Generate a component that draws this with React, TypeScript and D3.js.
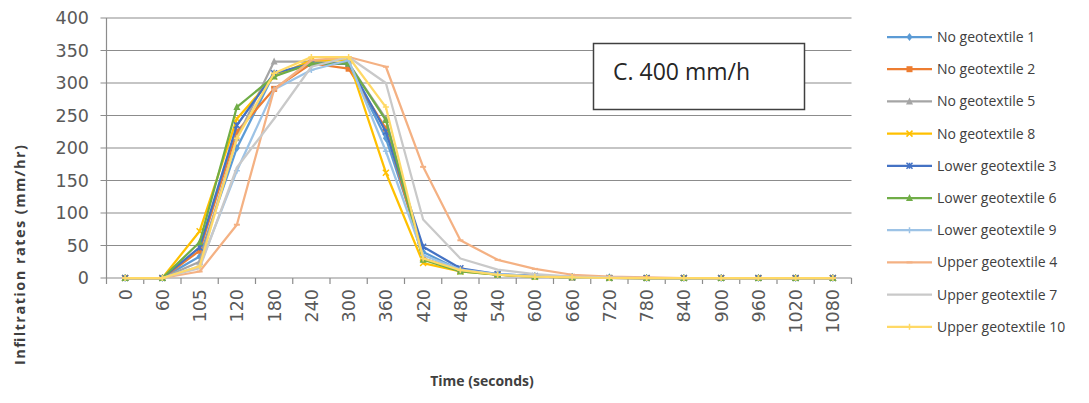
import React from "react";
import * as d3 from "d3";

const times = ["0","60","105","120","180","240","300","360","420","480","540","600","660","720","780","840","900","960","1020","1080"];
const yTicks = [0,50,100,150,200,250,300,350,400];

const seriesNames = ["No geotextile 1","No geotextile 2","No geotextile 5","No geotextile 8","Lower geotextile 3","Lower geotextile 6","Lower geotextile 9","Upper geotextile 4","Upper geotextile 7","Upper geotextile 10"];
const seriesColors = ["#5B9BD5","#ED7D31","#A5A5A5","#FFC000","#4472C4","#70AD47","#9DC3E6","#F4B183","#C9C9C9","#FFD966"];
const seriesMarkers = ["diamond","square","triangle","cross","star","triangle","plus","dash","none","plus"];

const noGeo1 = [0,0,33,200,315,328,330,215,40,12,5,3,2,1,0,0,0,0,0,0];
const noGeo2 = [0,0,42,225,291,330,322,230,30,12,5,3,1,0,0,0,0,0,0,0];
const noGeo5 = [0,0,25,215,333,333,330,245,30,12,5,3,1,0,0,0,0,0,0,0];
const noGeo8 = [0,0,72,245,310,335,335,162,23,10,5,2,1,0,0,0,0,0,0,0];
const lower3 = [0,0,47,235,315,330,330,225,48,15,6,3,1,0,0,0,0,0,0,0];
const lower6 = [0,0,55,263,310,330,330,243,28,10,5,2,1,0,0,0,0,0,0,0];
const lower9 = [0,0,18,165,290,320,335,195,35,13,6,3,1,0,0,0,0,0,0,0];
const upper4 = [0,0,10,82,290,335,340,325,171,58,28,14,5,2,1,0,0,0,0,0];
const upper7 = [0,0,15,170,245,325,340,300,90,30,13,6,2,1,0,0,0,0,0,0];
const upper10 = [0,0,18,215,315,340,340,263,30,12,5,2,1,0,0,0,0,0,0,0];

const seriesValues = [noGeo1,noGeo2,noGeo5,noGeo8,lower3,lower6,lower9,upper4,upper7,upper10];

const W = 1089, H = 403;
const left = 106.5, right = 851.5, top = 18, bottom = 278;

function Marker({ type, x, y, color }: { type: string; x: number; y: number; color: string }) {
  const s = 3;
  switch (type) {
    case "diamond":
      return <path d={`M${x},${y - s - 1}L${x + s},${y}L${x},${y + s + 1}L${x - s},${y}Z`} fill={color} />;
    case "square":
      return <rect x={x - s} y={y - s} width={2 * s} height={2 * s} fill={color} />;
    case "triangle":
      return <path d={`M${x},${y - s - 1}L${x + s + 0.5},${y + s}L${x - s - 0.5},${y + s}Z`} fill={color} />;
    case "cross":
      return <path d={`M${x - s},${y - s}L${x + s},${y + s}M${x - s},${y + s}L${x + s},${y - s}`} stroke={color} strokeWidth={1.5} />;
    case "star":
      return <path d={`M${x - s},${y - s}L${x + s},${y + s}M${x - s},${y + s}L${x + s},${y - s}M${x},${y - s}L${x},${y + s}`} stroke={color} strokeWidth={1.5} />;
    case "plus":
      return <path d={`M${x - s},${y}L${x + s},${y}M${x},${y - s}L${x},${y + s}`} stroke={color} strokeWidth={1.5} />;
    case "dash":
      return <path d={`M${x - s},${y}L${x + s},${y}`} stroke={color} strokeWidth={2} />;
    default:
      return null;
  }
}

export default function App() {
  const x = d3.scaleBand<string>().domain(times).range([left, right]);
  const y = d3.scaleLinear().domain([0, 400]).range([bottom, top]);
  const cx = (t: string) => (x(t) as number) + x.bandwidth() / 2;
  const line = d3.line<number>().x((_, i) => cx(times[i])).y((v) => y(v));
  const tickFont = "'DejaVu Sans', sans-serif";
  const legendY0 = 37, legendStep = 32.2;

  return (
    <svg width={W} height={H} style={{ position: "absolute", left: 0, top: 0, background: "#fff" }}>
      {/* gridlines */}
      {yTicks.map((t) => (
        <line key={"g" + t} x1={left - 6} x2={right} y1={y(t)} y2={y(t)} stroke="#8c8c8c" strokeWidth={1.2} />
      ))}
      {/* y axis */}
      <line x1={left} x2={left} y1={top} y2={bottom} stroke="#8c8c8c" strokeWidth={1.2} />
      {/* x tick marks */}
      {d3.range(times.length + 1).map((i) => {
        const xx = left + i * x.step();
        return <line key={"xt" + i} x1={xx} x2={xx} y1={bottom} y2={bottom + 6} stroke="#8c8c8c" strokeWidth={1.2} />;
      })}
      {/* y tick labels */}
      {yTicks.map((t) => (
        <text key={"yl" + t} x={89} y={y(t)} dy="0.36em" textAnchor="end" fontFamily={tickFont} fontSize={17.5} fill="#595959">
          {t}
        </text>
      ))}
      {/* x tick labels */}
      {times.map((t) => (
        <text key={"xl" + t} transform={`translate(${cx(t) + 6.5},${bottom + 11}) rotate(-90)`} textAnchor="end" fontFamily={tickFont} fontSize={17.5} fill="#595959">
          {t}
        </text>
      ))}
      {/* series */}
      {seriesValues.map((vals, si) => (
        <g key={"s" + si}>
          <path d={line(vals) || ""} fill="none" stroke={seriesColors[si]} strokeWidth={2.25} strokeLinejoin="round" />
          {vals.map((v, i) => (
            <Marker key={i} type={seriesMarkers[si]} x={cx(times[i])} y={y(v)} color={seriesColors[si]} />
          ))}
        </g>
      ))}
      {/* annotation box */}
      <rect x={593.5} y={43.5} width={211} height={66} fill="#fff" stroke="#404040" strokeWidth={1.5} />
      <text x={613} y={80} fontFamily="'Open Sans', sans-serif" fontSize={23} fill="#262626">C. 400 mm/h</text>
      {/* axis titles */}
      <text transform={`translate(25,255) rotate(-90)`} textAnchor="middle" fontFamily="'Open Sans', sans-serif" fontWeight="bold" fontSize={14.5} fill="#404040" textLength={220} lengthAdjust="spacing">
        Infiltration  rates (mm/hr)
      </text>
      <text x={482} y={386} textAnchor="middle" fontFamily="'Open Sans', sans-serif" fontWeight="bold" fontSize={14} fill="#404040">
        Time (seconds)
      </text>
      {/* legend */}
      {seriesNames.map((n, si) => {
        const ly = legendY0 + si * legendStep;
        return (
          <g key={"l" + si}>
            <line x1={887} x2={932} y1={ly} y2={ly} stroke={seriesColors[si]} strokeWidth={2.25} />
            <Marker type={seriesMarkers[si]} x={909.5} y={ly} color={seriesColors[si]} />
            <text x={937} y={ly} dy="0.35em" fontFamily="'Open Sans', sans-serif" fontSize={14} fill="#404040">{n}</text>
          </g>
        );
      })}
    </svg>
  );
}
